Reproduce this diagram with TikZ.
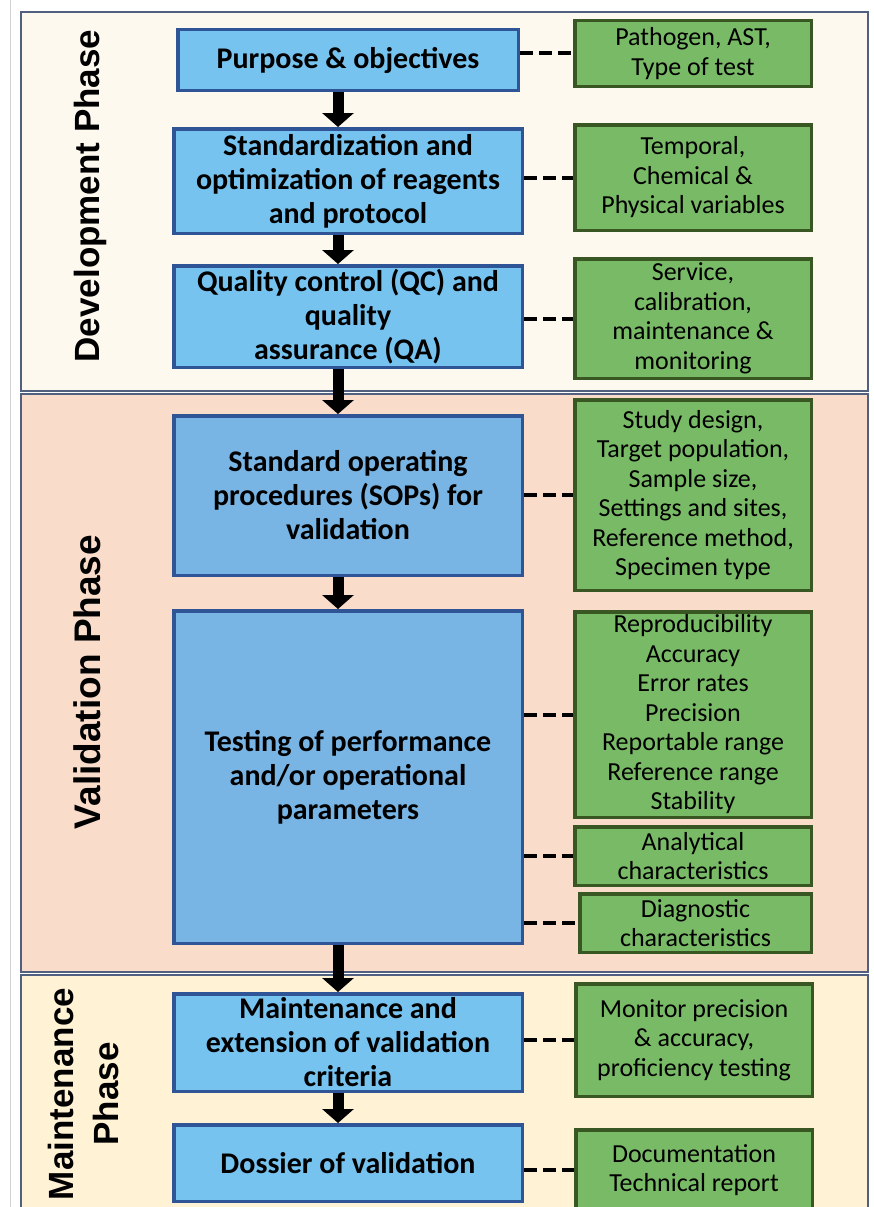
\documentclass[tikz,border=0pt]{standalone}
\usepackage{fontspec}
\setmainfont{Carlito}
\newfontfamily\phasefont{Liberation Sans}
\usepackage{tikz}
\usetikzlibrary{arrows.meta,positioning}
\definecolor{devback}{HTML}{FEF9EE}
\definecolor{valback}{HTML}{FADCCB}
\definecolor{mntback}{HTML}{FFF2D5}
\definecolor{panelline}{HTML}{51607E}
\definecolor{stagefill}{HTML}{77C3EF}
\definecolor{stagedeep}{HTML}{78B5E4}
\definecolor{stageline}{HTML}{2F5597}
\definecolor{detailfill}{HTML}{79BA66}
\definecolor{detailline}{HTML}{385723}
\tikzset{
  panel/.style={
    draw=panelline,
    line width=1.5pt
  },
  stage box/.style={
    rectangle,
    draw=stageline,
    fill=stagefill,
    line width=3.5pt,
    minimum width=348.5pt,
    inner sep=0pt,
    align=center,
    font=\bfseries\fontsize{30}{34}\selectfont
  },
  stage deep/.style={
    fill=stagedeep
  },
  detail box/.style={
    rectangle,
    draw=detailline,
    fill=detailfill,
    line width=3.5pt,
    minimum width=236.5pt,
    inner sep=0pt,
    align=center,
    font=\fontsize{26}{29.5}\selectfont
  },
  phase label/.style={
    rotate=90,
    anchor=base,
    align=center,
    font=\phasefont\bfseries\fontsize{35}{45}\selectfont
  },
  flow arrow/.style={
    -{Triangle[width=31pt,length=14pt]},
    line width=11pt
  },
  detail link/.style={
    line width=4pt,
    dash pattern=on 13pt off 6pt
  }
}

\begin{document}
\begin{tikzpicture}[x=1pt,y=-1pt]
  \useasboundingbox (0,0) rectangle (873,1207);
  \draw[black!18,line width=1pt] (10,0) -- (10,1207);
  \filldraw[panel,fill=devback] (21,12)  rectangle (868,391);
  \filldraw[panel,fill=valback] (21,394) rectangle (868,972);
  \filldraw[panel,fill=mntback] (21,975) rectangle (868,1215);

  \node[phase label]                          (dev_phase) at (99,196)  {Development Phase};
  \node[phase label,font=\phasefont\bfseries\fontsize{37}{45}\selectfont]
                                              (val_phase) at (100,682) {Validation Phase};
  \node[phase label,anchor=center]            (mnt_phase) at (83,1094) {Maintenance\\Phase};

  \node[stage box,minimum width=340.5pt,minimum height=60.5pt] (purpose) at (348,60) {Purpose \& objectives};
  \node[stage box,minimum height=104.5pt]            (standard) [below=35pt of purpose]  {Standardization and\\optimization of reagents\\and protocol};
  \node[stage box,minimum height=101.5pt]            (quality)  [below=29pt of standard] {Quality control (QC) and\\quality\\assurance (QA)};
  \node[stage box,stage deep,minimum height=159.5pt] (sop)      [below=45pt of quality]  {Standard operating\\procedures (SOPs) for\\validation};
  \node[stage box,stage deep,minimum height=332.5pt] (testing)  [below=32pt of sop]      {Testing of performance\\and/or operational\\parameters};
  \node[stage box,minimum height=97.5pt]             (extend)   [below=47pt of testing]  {Maintenance and\\extension of validation\\criteria};
  \node[stage box,minimum height=76.5pt]             (dossier)  [below=30pt of extend]   {Dossier of validation};

  \node[detail box,minimum height=65.5pt]  (pathogen)   at (693,53.5)  {Pathogen, AST,\\Type of test};
  \node[detail box,minimum height=105.5pt] (variables)  at (693,177.5) {Temporal,\\Chemical \&\\Physical variables};
  \node[detail box,minimum height=119.5pt] (service)    at (693,318.5) {Service,\\calibration,\\maintenance \&\\monitoring};
  \node[detail box,minimum height=190.5pt] (design)     at (693,495)   {Study design,\\Target population,\\Sample size,\\Settings and sites,\\Reference method,\\Specimen type};
  \node[detail box,minimum height=205.5pt] (params)     at (693,714.5) {Reproducibility\\Accuracy\\Error rates\\Precision\\Reportable range\\Reference range\\Stability};
  \node[detail box,minimum height=58.5pt]  (analytical) at (693,856)   {Analytical\\characteristics};
  \node[detail box,minimum height=58.5pt,minimum width=231.5pt]
                                           (diagnostic) at (695.5,923) {Diagnostic\\characteristics};
  \node[detail box,minimum height=112.5pt] (monitor)    at (694,1040)  {Monitor precision\\\& accuracy,\\proficiency testing};
  \node[detail box,minimum height=80.5pt]  (report)     at (694,1170)  {Documentation\\Technical report};

  \draw[flow arrow] ([xshift=-10pt]purpose.south)  -- ([xshift=-10pt]standard.north);
  \draw[flow arrow] ([xshift=-10pt]standard.south) -- ([xshift=-10pt]quality.north);
  \draw[flow arrow] ([xshift=-10pt]quality.south)  -- ([xshift=-10pt]sop.north);
  \draw[flow arrow] ([xshift=-10pt]sop.south)      -- ([xshift=-10pt]testing.north);
  \draw[flow arrow] ([xshift=-10pt]testing.south)  -- ([xshift=-10pt]extend.north);
  \draw[flow arrow] ([xshift=-10pt]extend.south)   -- ([xshift=-10pt]dossier.north);

  \draw[detail link] (purpose.east |- pathogen.west)    -- (pathogen.west);
  \draw[detail link] (standard.east |- variables.west)  -- (variables.west);
  \draw[detail link] (quality.east |- service.west)     -- (service.west);
  \draw[detail link] (sop.east |- design.west)          -- (design.west);
  \draw[detail link] (testing.east |- params.west)      -- (params.west);
  \draw[detail link] (testing.east |- analytical.west)  -- (analytical.west);
  \draw[detail link] (testing.east |- diagnostic.west)  -- (diagnostic.west);
  \draw[detail link] (extend.east |- monitor.west)      -- (monitor.west);
  \draw[detail link] (dossier.east |- report.west)      -- (report.west);
\end{tikzpicture}
\end{document}
